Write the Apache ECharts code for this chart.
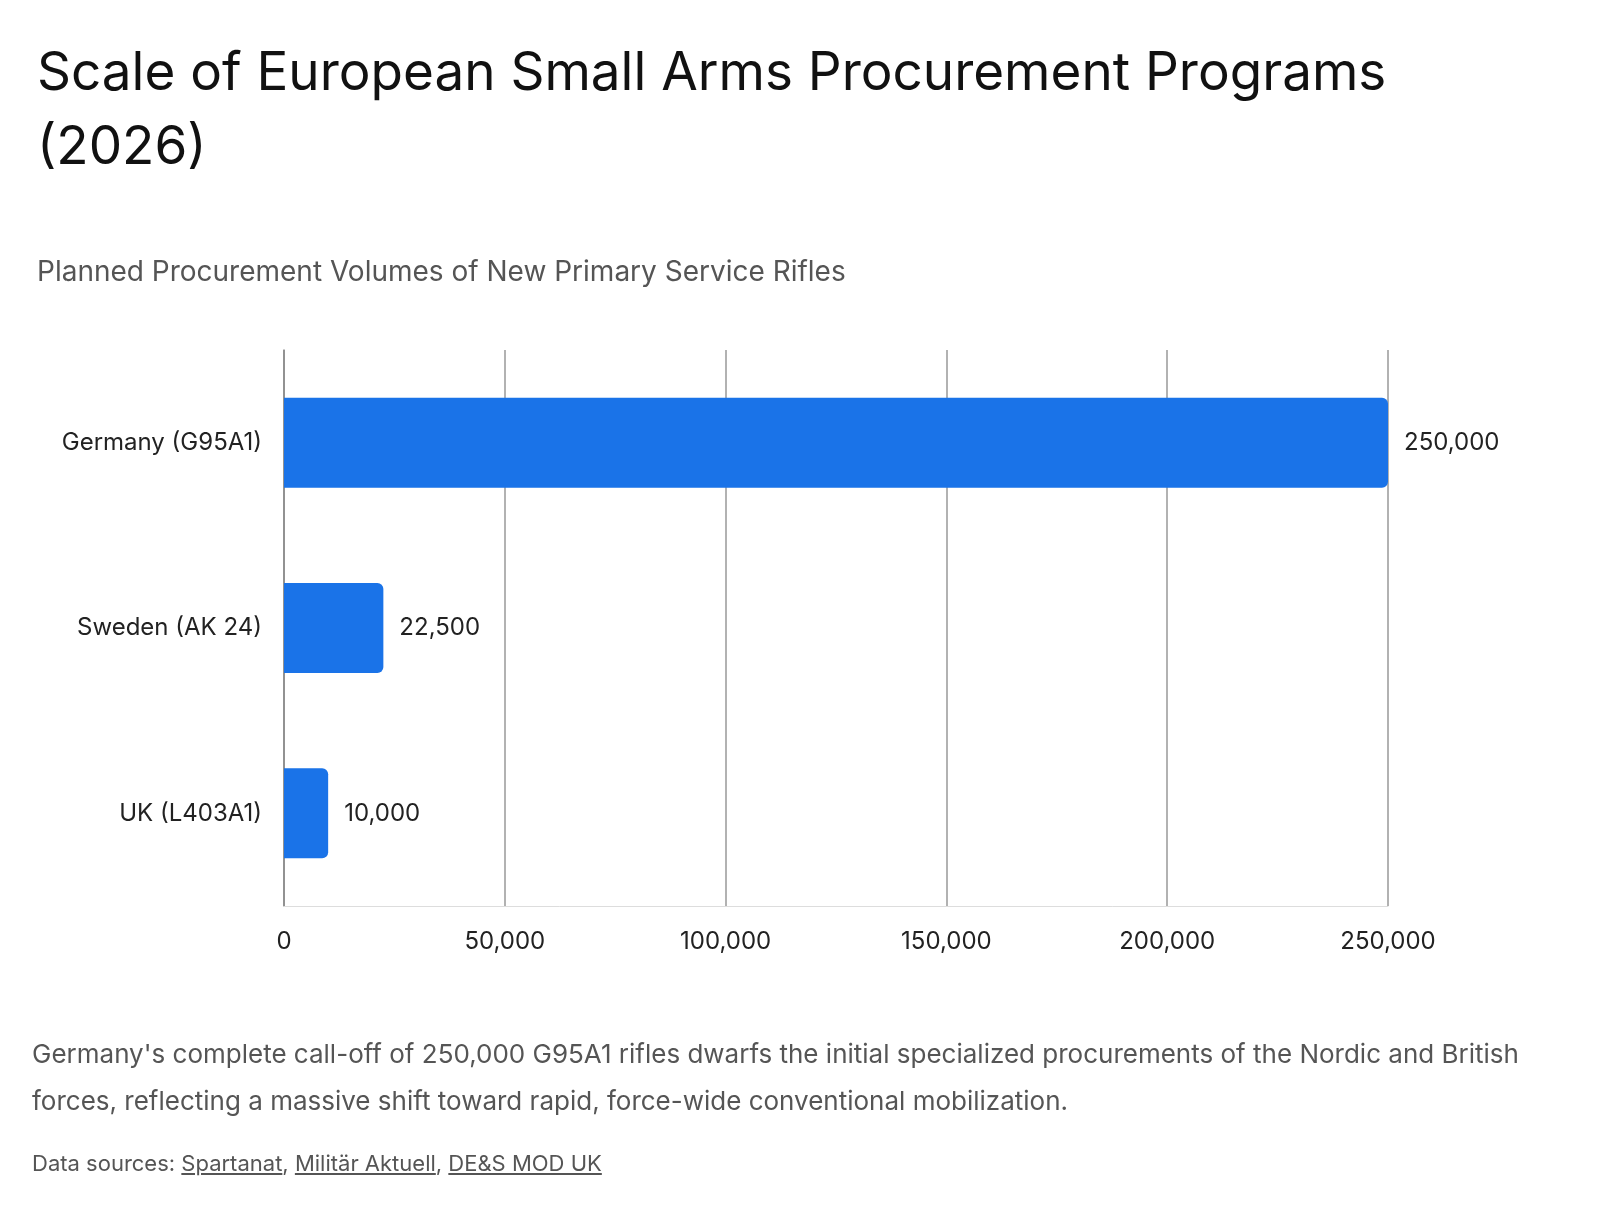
<!DOCTYPE html>
<html>
<head>
<meta charset="utf-8">
<script src="https://cdn.jsdelivr.net/npm/echarts@6/dist/echarts.min.js"></script>
<style>
  body { margin: 0; background: #fff; font-family: Inter, Roboto, sans-serif; }
  #chart { position: absolute; left: 0; top: 0; width: 1600px; height: 1210px; }
  .note { position: absolute; left: 32px; color: #555; }
  .note a { color: #555; text-decoration: underline; }
</style>
</head>
<body>
<div id="chart"></div>
<div class="note" style="top:1030px;width:1500px;font-size:26px;line-height:47px;">Germany's complete call-off of 250,000 G95A1 rifles dwarfs the initial specialized procurements of the Nordic and British forces, reflecting a massive shift toward rapid, force-wide conventional mobilization.</div>
<div class="note" style="top:1150px;font-size:22px;">Data sources: <a>Spartanat</a>, <a>Militär Aktuell</a>, <a>DE&amp;S MOD UK</a></div>
<script>
var categories = ['Germany (G95A1)', 'Sweden (AK 24)', 'UK (L403A1)'];
var rifles = [250000, 22500, 10000];
var tickMax = 250000;
var tickStep = 50000;

var myChart = echarts.init(document.getElementById('chart'));
var fmt = function (v) { return Number(v).toLocaleString('en-US'); };
var option = {
    textStyle: { fontFamily: 'Inter' },
    title: [
        { text: 'Scale of European Small Arms Procurement Programs\n(2026)', left: 32, top: 32,
          textStyle: { fontSize: 53, fontWeight: 'normal', color: '#111', lineHeight: 74, fontFamily: 'Inter' } },
        { text: 'Planned Procurement Volumes of New Primary Service Rifles', left: 32, top: 254,
          textStyle: { fontSize: 28, fontWeight: 'normal', color: '#555', fontFamily: 'Inter' } }
    ],
    grid: { left: 284, right: 212, top: 350, bottom: 304 },
    xAxis: {
        type: 'value', min: 0, max: tickMax, interval: tickStep,
        axisLabel: { formatter: fmt, fontSize: 24, color: '#222', margin: 24 },
        axisLine: { show: true, lineStyle: { color: '#ddd' } },
        axisTick: { show: false },
        splitLine: { show: true, lineStyle: { color: '#999', width: 1.5 } }
    },
    yAxis: {
        type: 'category', data: categories, inverse: true,
        axisLabel: { fontSize: 24, color: '#222', margin: 22 },
        axisLine: { show: true, lineStyle: { color: '#888', width: 1.5 } },
        axisTick: { show: false }
    },
    series: [{
        type: 'bar', data: rifles, barWidth: 90,
        itemStyle: { color: '#1a73e8', borderRadius: [0, 6, 6, 0] },
        label: { show: true, position: 'right', distance: 16, fontSize: 24, color: '#222', formatter: function (p) { return fmt(p.value); } }
    }]
};
myChart.setOption(option);
</script>
</body>
</html>
